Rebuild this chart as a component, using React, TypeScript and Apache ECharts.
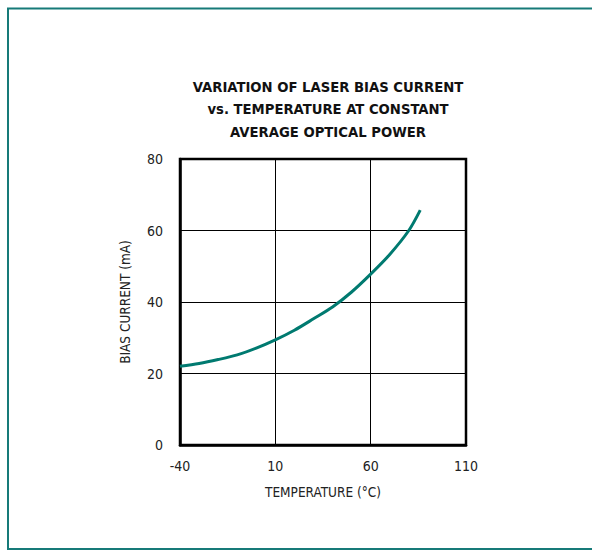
import React, { useEffect, useRef } from "react";
import * as echarts from "echarts";

const temperatures = [-40, -30, -20, -10, 0, 10, 20, 30, 40, 50, 60, 70, 80, 86];
const biasCurrent = [22, 22.8, 23.9, 25.2, 27.1, 29.4, 32.1, 35.3, 38.6, 42.8, 47.8, 53.3, 60, 65.7];
const titleLines = [
  "VARIATION OF LASER BIAS CURRENT",
  "vs. TEMPERATURE AT CONSTANT",
  "AVERAGE OPTICAL POWER",
];
const xAxisName = "TEMPERATURE (°C)";
const yAxisName = "BIAS CURRENT (mA)";

const FONT = "'Liberation Sans Narrow', 'DejaVu Sans Condensed', Arial, sans-serif";
const TEAL = "#007a70";
const FRAME = "#167a78";

export default function App() {
  const ref = useRef<HTMLDivElement>(null);
  useEffect(() => {
    if (!ref.current) return;
    const chart = echarts.init(ref.current, undefined, { renderer: "svg" });
    const data = temperatures.map((t, i) => [t, biasCurrent[i]]);
    chart.setOption({
      animation: false,
      backgroundColor: "#ffffff",
      title: {
        text: titleLines.join("\n"),
        left: 323,
        top: 70,
        textAlign: "center",
        textStyle: {
          fontFamily: FONT,
          fontWeight: "bold",
          fontSize: 14.7,
          lineHeight: 22.5,
          color: "#111111",
        },
      },
      graphic: [
        {
          type: "rect",
          silent: true,
          shape: { x: 8, y: 8.5, width: 640, height: 540.5 },
          style: { fill: "none", stroke: FRAME, lineWidth: 2 },
        },
      ],
      grid: {
        left: 180,
        top: 159,
        width: 286,
        height: 286,
        show: true,
        borderColor: "#000",
        borderWidth: 2.5,
        backgroundColor: "transparent",
      },
      xAxis: {
        type: "value",
        min: -40,
        max: 110,
        interval: 50,
        name: xAxisName,
        nameLocation: "middle",
        nameGap: 40,
        nameTextStyle: { fontFamily: FONT, fontSize: 13.5, color: "#222" },
        axisLine: { show: true, onZero: false, lineStyle: { color: "#000", width: 2.5 } },
        axisTick: { show: false },
        axisLabel: { fontFamily: FONT, fontSize: 14, color: "#222", margin: 14 },
        splitLine: { show: true, lineStyle: { color: "#000", width: 1 } },
      },
      yAxis: {
        type: "value",
        min: 0,
        max: 80,
        interval: 20,
        name: yAxisName,
        nameLocation: "middle",
        nameGap: 48,
        nameTextStyle: { fontFamily: FONT, fontSize: 13.5, color: "#222" },
        axisLine: { show: true, onZero: false, lineStyle: { color: "#000", width: 2.5 } },
        axisTick: { show: false },
        axisLabel: { fontFamily: FONT, fontSize: 14, color: "#222", margin: 17 },
        splitLine: { show: true, lineStyle: { color: "#000", width: 1 } },
      },
      series: [
        {
          type: "line",
          data,
          smooth: 0.3,
          showSymbol: false,
          lineStyle: { color: TEAL, width: 3 },
        },
      ],
    });
    return () => chart.dispose();
  }, []);
  return (
    <div
      ref={ref}
      style={{ position: "absolute", left: 0, top: 0, width: 592, height: 550 }}
    />
  );
}
